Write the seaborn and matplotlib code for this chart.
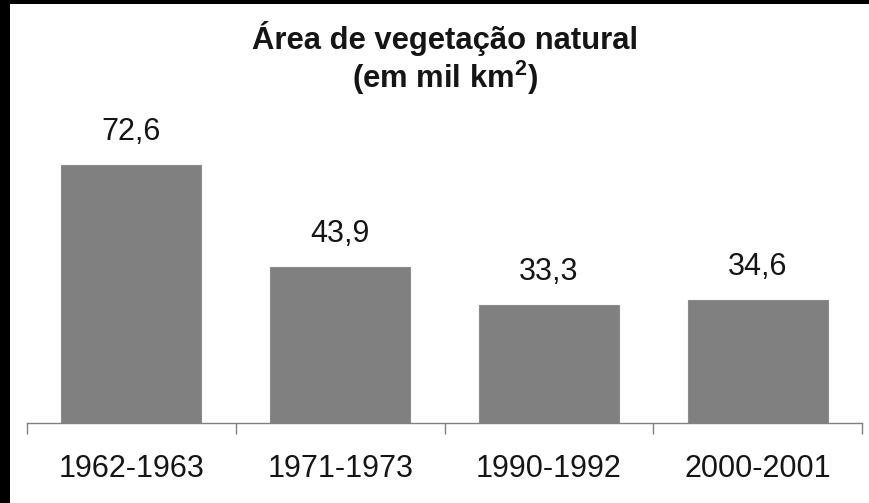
import numpy as np
import pandas as pd
import matplotlib
matplotlib.use("Agg")
import matplotlib.pyplot as plt
from matplotlib.patches import Rectangle
from matplotlib.ticker import FixedLocator
import seaborn as sns

# data
periods = ["1962-1963", "1971-1973", "1990-1992", "2000-2001"]
area = [72.6, 43.9, 33.3, 34.6]

sns.set_theme(style="white")
plt.rcParams["font.family"] = ["Liberation Sans", "DejaVu Sans"]
plt.rcParams["mathtext.fontset"] = "custom"
plt.rcParams["mathtext.rm"] = "Liberation Sans:bold"
plt.rcParams["mathtext.bf"] = "Liberation Sans:bold"

df = pd.DataFrame({"periodo": periods, "area": area})

fig = plt.figure(figsize=(8.69, 5.03), dpi=100)
fig.patch.set_facecolor("white")
ax = fig.add_axes([27 / 869, 80 / 503, 835 / 869, 313 / 503])

sns.barplot(data=df, x="periodo", y="area", color="#808080", saturation=1,
            width=0.67, edgecolor="#8c8c8c", linewidth=0.8, ax=ax)

ax.set_xlim(-0.5, len(periods) - 0.5)
ax.set_ylim(0, 88)
ax.set_xlabel("")
ax.set_ylabel("")
ax.set_yticks([])
for s in ["left", "top", "right"]:
    ax.spines[s].set_visible(False)
ax.spines["bottom"].set_color("#808080")
ax.spines["bottom"].set_linewidth(1.0)

# category ticks sit between the bars, labels centered
ax.xaxis.set_minor_locator(FixedLocator(np.arange(-0.5, len(periods), 1.0)))
ax.tick_params(axis="x", which="minor", bottom=True, length=8, width=1.0, color="#808080")
ax.tick_params(axis="x", which="major", bottom=True, length=0, pad=22,
               labelsize=22, labelcolor="#151515")

labels = [f"{v:.1f}".replace(".", ",") for v in area]
ax.bar_label(ax.containers[0], labels=labels, padding=13, fontsize=22, color="#151515")

# title
fig.text(0.512, 1 - 39 / 503, "Área de vegetação natural", ha="center", va="center",
         fontsize=22.3, fontweight="bold", color="#151515")
fig.text(0.512, 1 - 78 / 503, r"(em mil km$^\mathbf{2}$)", ha="center", va="center",
         fontsize=22.3, fontweight="bold", color="#151515")

# dark frame on the left and top edges
fig.add_artist(Rectangle((0, 0), 10 / 869, 1, transform=fig.transFigure,
                         facecolor="black", edgecolor="none"))
fig.add_artist(Rectangle((0, 1 - 4 / 503), 1, 4 / 503, transform=fig.transFigure,
                         facecolor="black", edgecolor="none"))

fig.savefig("out.png", dpi=100, facecolor="white")
